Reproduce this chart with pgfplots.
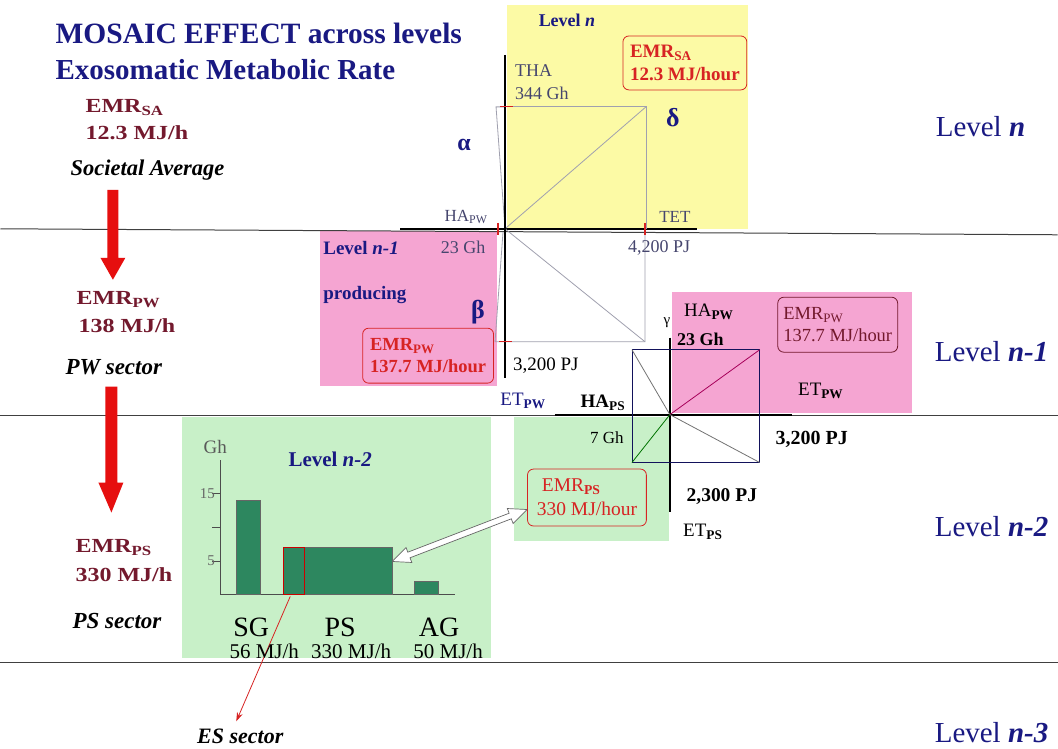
\documentclass[border=0pt]{standalone}
\usepackage{pgfplots}
\pgfplotsset{compat=1.18}
\usepackage{fontspec}
\setmainfont{Liberation Serif}
\newfontfamily\wideserif{Liberation Serif}[FakeStretch=1.2]
\usetikzlibrary{arrows.meta}

\definecolor{navy}{RGB}{25,25,130}
\definecolor{darkred}{RGB}{115,25,45}
\definecolor{boxred}{RGB}{215,35,35}
\definecolor{yellowbg}{RGB}{252,250,165}
\definecolor{pinkbg}{RGB}{245,165,210}
\definecolor{greenbg}{RGB}{200,240,200}
\definecolor{bargreen}{RGB}{45,135,95}
\definecolor{grayline}{RGB}{160,160,175}
\definecolor{labgray}{RGB}{70,70,110}
\definecolor{arrowred}{RGB}{230,15,15}

\newcommand{\fs}[1]{\fontsize{#1}{#1}\selectfont}
\newcommand{\lev}[1]{Level \textbf{\textit{#1}}}

\tikzset{
    lab/.style={inner sep=0pt, anchor=west},
    ctr/.style={inner sep=0pt, anchor=center},
    emrbox/.style={line width=0.8pt, rounded corners=6pt, inner sep=2pt, align=left},
}

\begin{document}
\begin{tikzpicture}
\begin{axis}[
    scale only axis, width=1058pt, height=749pt,
    xmin=0, xmax=1058, ymin=0, ymax=749,
    y dir=reverse, hide axis, clip=false,
]
% background and coloured panels
\addplot[fill=white, draw=none] coordinates {(0,0)(1058,0)(1058,749)(0,749)} -- cycle;
\addplot[fill=yellowbg, draw=none] coordinates {(507,5)(748,5)(748,229)(507,229)} -- cycle;
\addplot[fill=pinkbg, draw=none] coordinates {(320,231)(497,231)(497,386)(320,386)} -- cycle;
\addplot[fill=pinkbg, draw=none] coordinates {(672,292)(912,292)(912,413)(672,413)} -- cycle;
\addplot[fill=greenbg, draw=none] coordinates {(182,417)(491,417)(491,659)(182,659)} -- cycle;
\addplot[fill=greenbg, draw=none] coordinates {(514,417)(669,417)(669,542)(514,542)} -- cycle;

% level separators
\addplot[black!75, line width=1pt] coordinates {(0,229)(1058,235)};
\addplot[black!75, line width=1pt] coordinates {(0,416)(1058,416)};
\addplot[black!75, line width=1pt] coordinates {(0,663)(1058,663)};
\addplot[black, line width=2pt] coordinates {(400,229)(697,229)};
\addplot[black, line width=2pt] coordinates {(555,415)(792,415)};

% upper four-angle figure
\addplot[grayline, line width=0.8pt] coordinates {(505,107)(646,107)(646,229)};
\addplot[grayline, line width=0.8pt] coordinates {(505,229)(646,107)};
\addplot[grayline, line width=0.8pt] coordinates {(505,107)(496,107)(505,229)};
\addplot[grayline, line width=0.8pt] coordinates {(503,232)(495,342)(645,342)(645,229)};
\addplot[grayline, line width=0.8pt] coordinates {(505,229)(645,342)};
\addplot[black, line width=2pt] coordinates {(505,55)(505,378)};
\addplot[boxred, line width=1.2pt] coordinates {(500,107)(513,107)};
\addplot[boxred, line width=1.2pt] coordinates {(498,223)(498,235)};
\addplot[boxred, line width=1.2pt] coordinates {(645,223)(645,235)};
\addplot[boxred, line width=1.2pt] coordinates {(499,342)(512,342)};

% lower four-angle figure
\addplot[black, line width=2pt] coordinates {(670,338)(670,512)};
\addplot[navy!70!black, line width=0.8pt] coordinates {(632,350)(760,350)(760,463)(632,463)} -- cycle;
\addplot[black!55, line width=0.8pt] coordinates {(632,350)(670,415)};
\addplot[violet!70!red, line width=0.8pt] coordinates {(670,415)(760,350)};
\addplot[black!55, line width=0.8pt] coordinates {(670,415)(760,463)};
\addplot[green!45!black, line width=0.8pt] coordinates {(670,415)(632,463)};

% block arrows on the left
\addplot[fill=arrowred, draw=none] coordinates {(107,190)(118,190)(118,258)(125,258)(112.5,280)(100,258)(107,258)} -- cycle;
\addplot[fill=arrowred, draw=none] coordinates {(105,387)(117,387)(117,483)(123,483)(111,513)(98,483)(105,483)} -- cycle;

% hollow double arrow
\addplot[fill=white, draw=black!60, line width=0.7pt] coordinates {(392,562)(405.9,548.0)(407.7,552.7)(509.1,513.7)(507.3,509.0)(527,510)(513.1,524.0)(511.3,519.3)(409.9,558.3)(411.7,563.0)} -- cycle;

% thin red arrow to ES sector
\addplot[boxred, line width=0.8pt, -{Stealth[length=9pt,width=6pt]}] coordinates {(290,597)(236,722)};

% title
\node[lab, navy] at (axis cs:55,33) {\fs{29.5}\bfseries MOSAIC EFFECT across levels};
\node[lab, navy] at (axis cs:55,70) {\fs{29}\bfseries Exosomatic Metabolic Rate};

% left column
\node[lab, darkred] at (axis cs:85,108) {\wideserif\fs{20}\bfseries EMR\textsubscript{SA}};
\node[lab, darkred] at (axis cs:85,133) {\wideserif\fs{20}\bfseries 12.3 MJ/h};
\node[lab] at (axis cs:70,170) {\fs{22.5}\bfseries\itshape Societal Average};
\node[lab, darkred] at (axis cs:76,300) {\wideserif\fs{20}\bfseries EMR\textsubscript{PW}};
\node[lab, darkred] at (axis cs:78,326) {\wideserif\fs{20}\bfseries 138 MJ/h};
\node[lab] at (axis cs:65,367) {\fs{23}\bfseries\itshape PW sector};
\node[lab, darkred] at (axis cs:75,548) {\wideserif\fs{20}\bfseries EMR\textsubscript{PS}};
\node[lab, darkred] at (axis cs:75,575) {\wideserif\fs{20}\bfseries 330 MJ/h};
\node[lab] at (axis cs:72,622) {\fs{23}\bfseries\itshape PS sector};
\node[ctr] at (axis cs:240,737) {\fs{22}\bfseries\itshape ES sector};

% right column
\node[lab, navy] at (axis cs:936,127) {\fs{29}\lev{n}};
\node[lab, navy] at (axis cs:935,352) {\fs{29}\lev{n-1}};
\node[lab, navy] at (axis cs:935,527) {\fs{29}\lev{n-2}};
\node[lab, navy] at (axis cs:935,733) {\fs{29}\lev{n-3}};

% upper figure labels
\node[ctr, navy] at (axis cs:567,20) {\fs{18}\bfseries Level \textit{n}};
\node[emrbox, draw=boxred, fill=yellowbg, minimum width=124pt, minimum height=54pt, text=boxred, font=\fontsize{19}{23}\selectfont\bfseries] at (axis cs:685,63) {EMR\textsubscript{SA}\\12.3 MJ/hour};
\node[lab, labgray] at (axis cs:515,71) {\fs{18}THA};
\node[lab, labgray] at (axis cs:515,93) {\fs{18}344 Gh};
\node[ctr, navy] at (axis cs:673,118) {\fs{26}\bfseries δ};
\node[ctr, navy] at (axis cs:464,145) {\fs{24}\bfseries α};
\node[ctr, labgray] at (axis cs:466,217) {\fs{17}HA\textsubscript{PW}};
\node[ctr, labgray] at (axis cs:675,217) {\fs{17}TET};
\node[lab, labgray] at (axis cs:628,248) {\fs{18}4,200 PJ};
\node[ctr, labgray] at (axis cs:463,248) {\fs{18}23 Gh};
\node[lab, navy] at (axis cs:323,248) {\fs{19}\bfseries Level \textit{n-1}};
\node[lab, navy] at (axis cs:323,295) {\fs{19}\bfseries producing};
\node[ctr, navy] at (axis cs:478,312) {\fs{26}\bfseries β};
\node[emrbox, draw=boxred, fill=pinkbg, minimum width=131pt, minimum height=55pt, text=boxred, font=\fontsize{18.5}{22}\selectfont\bfseries] at (axis cs:428,356) {EMR\textsubscript{PW}\\137.7 MJ/hour};
\node[lab] at (axis cs:513,366) {\fs{19}3,200 PJ};
\node[ctr, navy] at (axis cs:523,401) {\fs{19}ET\textsubscript{\textbf{PW}}};
\node[ctr] at (axis cs:603,403) {\fs{19}\bfseries HA\textsubscript{PS}};

% lower figure labels
\node[ctr] at (axis cs:709,312) {\fs{19}HA\textsubscript{\textbf{PW}}};
\node[ctr] at (axis cs:667,323) {\fs{15}γ};
\node[lab] at (axis cs:677,340) {\fs{18}\bfseries 23 Gh};
\node[emrbox, draw=darkred, fill=pinkbg, minimum width=120pt, minimum height=55pt, text=darkred, font=\fontsize{18.5}{22}\selectfont] at (axis cs:838,325) {EMR\textsubscript{PW}\\137.7 MJ/hour};
\node[ctr] at (axis cs:821,391) {\fs{19}ET\textsubscript{\textbf{PW}}};
\node[ctr] at (axis cs:812,440) {\fs{20}\bfseries 3,200 PJ};
\node[ctr] at (axis cs:607,438) {\fs{17}7 Gh};
\node[ctr] at (axis cs:722,497) {\fs{19.5}\bfseries 2,300 PJ};
\node[ctr] at (axis cs:703,532) {\fs{19}ET\textsubscript{\textbf{PS}}};
\node[emrbox, draw=boxred, fill=greenbg, minimum width=119pt, minimum height=57pt, text=boxred, font=\fontsize{19.5}{24}\selectfont] at (axis cs:587,498) {\hspace*{5pt}EMR\textsubscript{\textbf{PS}}\\330 MJ/hour};

% bar chart labels
\node[ctr, black!65] at (axis cs:215,447) {\fs{19}Gh};
\node[ctr, navy] at (axis cs:330,460) {\fs{21}\bfseries Level \textit{n-2}};
\node[ctr] at (axis cs:251,628) {\fs{28}SG};
\node[ctr] at (axis cs:340,628) {\fs{28}PS};
\node[ctr] at (axis cs:439,628) {\fs{28}AG};
\node[ctr] at (axis cs:264,652) {\fs{21}56 MJ/h};
\node[ctr] at (axis cs:351,652) {\fs{21}330 MJ/h};
\node[ctr] at (axis cs:448,652) {\fs{21}50 MJ/h};
\end{axis}

% bar chart of level n-2 (Gh per sector)
\begin{axis}[
    at={(220pt,154pt)}, anchor=south west,
    scale only axis, width=235pt, height=135pt,
    xmin=0, xmax=235, ymin=0, ymax=20,
    axis x line=bottom, axis y line=left,
    axis line style={-, draw=black!70, line width=0.8pt},
    xtick=\empty, ytick={5,10,15}, yticklabels={5,,15},
    tick align=outside, major tick length=8pt,
    ytick style={draw=black!70},
    y tick label style={font=\fs{15}, text=black!60, xshift=6pt},
]
\addplot[fill=bargreen, draw=black!60] coordinates {(16,0)(16,14)(40,14)(40,0)} -- cycle;
\addplot[fill=bargreen, draw=black!60] coordinates {(84,0)(84,7)(172,7)(172,0)} -- cycle;
\addplot[fill=bargreen, draw=red!80!black, line width=1pt] coordinates {(63,0)(63,7)(84,7)(84,0)} -- cycle;
\addplot[fill=bargreen, draw=black!60] coordinates {(194,0)(194,2)(218,2)(218,0)} -- cycle;
\end{axis}
\end{tikzpicture}
\end{document}
